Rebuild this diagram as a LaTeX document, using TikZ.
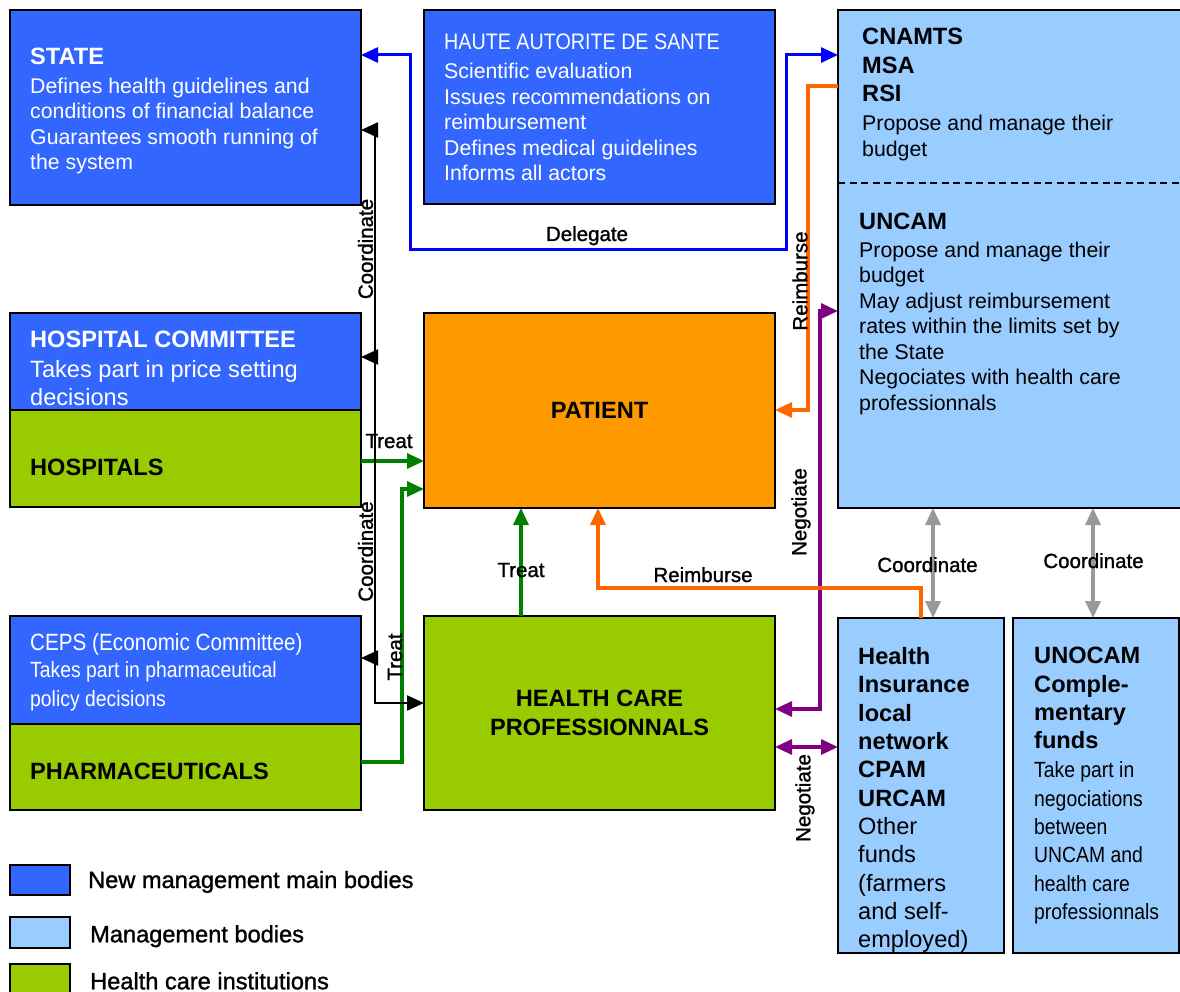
\documentclass[tikz,border=0pt]{standalone}
\usepackage{fontspec}
\setmainfont{Liberation Sans}
\newfontfamily\narrowfont[FakeStretch=0.88]{Liberation Sans}
\newfontfamily\heavyfont[FakeBold=1.2]{Liberation Sans}
\usetikzlibrary{arrows.meta,calc}
\definecolor{dblue}{HTML}{3366FF}
\definecolor{lblue}{HTML}{99CCFF}
\definecolor{hgreen}{HTML}{99CC00}
\definecolor{orng}{HTML}{FF9900}
\definecolor{bluel}{HTML}{0000FF}
\definecolor{orangel}{HTML}{FF6600}
\definecolor{greenl}{HTML}{008000}
\definecolor{purplel}{HTML}{800080}
\definecolor{grayl}{HTML}{999999}
\tikzset{
  box/.style={draw=black, line width=1.6pt, anchor=north west, inner sep=0pt, outer sep=0pt},
  txt/.style={anchor=north west, inner sep=0pt, align=left},
  hd/.style={font=\fontsize{23.6}{28.3}\selectfont\bfseries},
  bd/.style={font=\fontsize{21.3}{25.5}\selectfont},
  big/.style={font=\fontsize{23.6}{28.3}\selectfont},
  leg/.style={font=\heavyfont\fontsize{23.6}{28.3}\selectfont},
  lbl/.style={font=\heavyfont\fontsize{20.5}{24}\selectfont, inner sep=0pt},
  arr/.style={-{Triangle[length=17pt,width=15pt]}},
  darr/.style={{Triangle[length=17pt,width=15pt]}-{Triangle[length=17pt,width=15pt]}},
  bline/.style={draw=bluel, line width=3pt},
  kline/.style={draw=black, line width=2.3pt},
  gline/.style={draw=greenl, line width=3.2pt},
  oline/.style={draw=orangel, line width=3.2pt},
  pline/.style={draw=purplel, line width=3.2pt},
  gyline/.style={draw=grayl, line width=3.5pt},
}
\begin{document}
\begin{tikzpicture}[x=1pt,y=-1pt]
\useasboundingbox (0,0) rectangle (1180,992);
\fill[white] (0,0) rectangle (1180,992);

% boxes
\node[box, fill=dblue, minimum width=351pt, minimum height=195pt] (state) at (10,10) {};
\node[box, fill=dblue, minimum width=351pt, minimum height=194pt] (has) at (424,10) {};
\node[box, fill=lblue, minimum width=352pt, minimum height=498pt] (cnam) at (838,10) {};
\draw[black, line width=1.6pt, dash pattern=on 7pt off 4.5pt] (cnam.west |- 0,183) -- (cnam.east |- 0,183);
\node[box, fill=dblue, minimum width=351pt, minimum height=97pt] (hcom) at (10,313) {};
\node[box, fill=hgreen, minimum width=351pt, minimum height=97pt] (hosp) at (10,410) {};
\node[box, fill=orng, minimum width=351pt, minimum height=195pt, hd] (patient) at (424,313) {PATIENT};
\node[box, fill=dblue, minimum width=351pt, minimum height=108pt] (ceps) at (10,616) {};
\node[box, fill=hgreen, minimum width=351pt, minimum height=86pt] (pharma) at (10,724) {};
\node[box, fill=hgreen, minimum width=351pt, minimum height=194pt, hd, align=center] (hcp) at (424,616) {HEALTH CARE\\PROFESSIONNALS};
\node[box, fill=lblue, minimum width=166pt, minimum height=335pt] (hil) at (838,618) {};
\node[box, fill=lblue, minimum width=166pt, minimum height=335pt] (unocam) at (1013,618) {};

% legend
\node[box, fill=dblue, minimum width=60pt, minimum height=30pt] (lg1) at (10,865) {};
\node[box, fill=lblue, minimum width=60pt, minimum height=31pt] (lg2) at (10,917) {};
\node[box, fill=hgreen, minimum width=60pt, minimum height=40pt] (lg3) at (10,964) {};
\node[txt, leg] (lg1-t) at (88,870.7) {New management main bodies};
\node[txt, leg] (lg2-t) at (90,925) {Management bodies};
\node[txt, leg] (lg3-t) at (90,972) {Health care institutions};

% texts
\node[txt, hd, text=white] (state-h) at (30,48) {STATE};
\node[txt, bd, text=white] (state-b) at (30,77.7) {Defines health guidelines and\\conditions of financial balance\\Guarantees smooth running of\\the system};
\node[txt, text=white, font=\narrowfont\fontsize{22.4}{26}\selectfont] (has-h) at (444,34) {HAUTE AUTORITE DE SANTE};
\node[txt, bd, text=white] (has-b) at (444,63) {Scientific evaluation\\Issues recommendations on\\reimbursement\\Defines medical guidelines\\Informs all actors};
\node[txt, hd] (cnam-h) at (862,28.3) {CNAMTS\\MSA\\RSI};
\node[txt, bd] (cnam-b) at (862,115) {Propose and manage their\\budget};
\node[txt, hd] (uncam-h) at (859,213) {UNCAM};
\node[txt, bd] (uncam-b) at (859,241.5) {Propose and manage their\\budget\\May adjust reimbursement\\rates within the limits set by\\the State\\Negociates with health care\\professionnals};
\node[txt, hd, text=white] (hcom-h) at (30,330.7) {HOSPITAL COMMITTEE};
\node[txt, big, text=white] (hcom-b) at (30,360) {Takes part in price setting\\decisions};
\node[txt, hd] (hosp-h) at (30,459.3) {HOSPITALS};
\node[txt, text=white, font=\narrowfont\fontsize{23.5}{28}\selectfont] (ceps-h) at (30,633.3) {CEPS (Economic Committee)};
\node[txt, text=white, font=\narrowfont\fontsize{22}{28.3}\selectfont] (ceps-b) at (30,661.7) {Takes part in pharmaceutical\\policy decisions};
\node[txt, hd] (pharma-h) at (30,763.3) {PHARMACEUTICALS};
\node[txt, big] (hil-t) at (858,647.3) {\textbf{Health}\\\textbf{Insurance}\\\textbf{local}\\\textbf{network}\\\textbf{CPAM}\\\textbf{URCAM}\\Other\\funds\\(farmers\\and self-\\employed)};
\node[txt, hd] (unocam-h) at (1034,647.3) {UNOCAM\\Comple-\\mentary\\funds};
\node[txt, font=\narrowfont\fontsize{22}{28.3}\selectfont] (unocam-b) at (1034,761.7) {Take part in\\negociations\\between\\UNCAM and\\health care\\professionnals};

% connectors
\draw[bline, darr] (state.east |- 0,55) -- (410,55) -- (410,250) -- (786,250) -- (786,55) -- (cnam.west |- 0,55);

\draw[gline, arr] (hosp.east |- 0,461) -- (patient.west |- 0,461);
\draw[gline, arr] (pharma.east |- 0,762) -- (402,762) -- (402,489) -- (patient.west |- 0,489);
\draw[gline, arr] (hcp.north -| 521,0) -- (patient.south -| 521,0);

\draw[kline, darr] (state.east |- 0,130) -- (375,130) -- (375,703) -- (hcp.west |- 0,703);
\coordinate (kb1) at (375,357);
\coordinate (kb2) at (375,658);
\draw[kline, arr] (kb1) -- (hcom.east |- kb1);
\draw[kline, arr] (kb2) -- (ceps.east |- kb2);

\draw[pline, darr] (cnam.west |- 0,311) -- (820,311) -- (820,709) -- (hcp.east |- 0,709);
\draw[pline, darr] (hcp.east |- 0,747) -- (hil.west |- 0,747);

\draw[oline, arr] (cnam.west |- 0,86) -- (808,86) -- (808,410) -- (patient.east |- 0,410);
\draw[oline, arr] (hil.north -| 921,0) -- (921,588) -- (598,588) -- (patient.south -| 598,0);

\draw[gyline, darr] (cnam.south -| 933,0) -- (hil.north -| 933,0);
\draw[gyline, darr] (cnam.south -| 1093,0) -- (unocam.north -| 1093,0);

% labels
\node[lbl, anchor=base] (l-deleg) at (587,241) {Delegate};
\node[lbl, rotate=90] (l-coord1) at (365.5,249) {Coordinate};
\node[lbl, rotate=90] (l-coord2) at (365.5,551.5) {Coordinate};
\node[lbl, anchor=base] (l-treat1) at (389,448) {Treat};
\node[lbl, anchor=base] (l-treat2) at (521,577) {Treat};
\node[lbl, rotate=90] (l-treat3) at (395,657) {Treat};
\node[lbl, rotate=90] (l-reimb1) at (800,281) {Reimburse};
\node[lbl, anchor=base] (l-reimb2) at (703,582) {Reimburse};
\node[lbl, rotate=90] (l-neg1) at (801,512) {Negotiate};
\node[lbl, rotate=90] (l-neg2) at (805,798) {Negotiate};
\node[lbl, anchor=base] (l-coord3) at (927.5,572) {Coordinate};
\node[lbl, anchor=base] (l-coord4) at (1093.5,568) {Coordinate};
\end{tikzpicture}
\end{document}
